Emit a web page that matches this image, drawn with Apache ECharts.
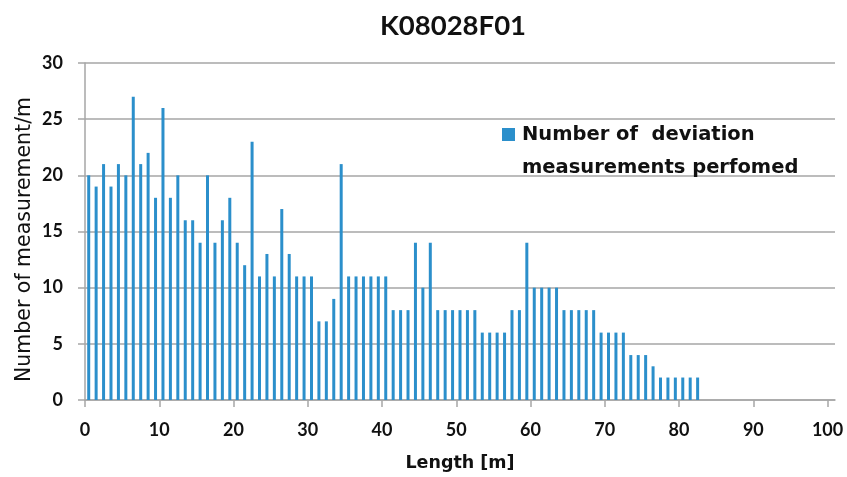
<!DOCTYPE html>
<html>
<head>
<meta charset="utf-8">
<script src="https://cdn.jsdelivr.net/npm/echarts@6/dist/echarts.min.js"></script>
<style>
  html, body { margin: 0; padding: 0; background: #fff; }
  #chart { width: 847px; height: 477px; }
</style>
</head>
<body>
<div id="chart"></div>
<script>
// Borehole K08028F01: number of deviation measurements per metre of length
const chartTitle = 'K08028F01';
const seriesName = 'Number of  deviation\nmeasurements perfomed';

// Bin centres along the hole [m]
const lengths = [
  0.5, 1.5, 2.5, 3.5, 4.5, 5.5, 6.5, 7.5, 8.5, 9.5,
  10.5, 11.5, 12.5, 13.5, 14.5, 15.5, 16.5, 17.5, 18.5, 19.5,
  20.5, 21.5, 22.5, 23.5, 24.5, 25.5, 26.5, 27.5, 28.5, 29.5,
  30.5, 31.5, 32.5, 33.5, 34.5, 35.5, 36.5, 37.5, 38.5, 39.5,
  40.5, 41.5, 42.5, 43.5, 44.5, 45.5, 46.5, 47.5, 48.5, 49.5,
  50.5, 51.5, 52.5, 53.5, 54.5, 55.5, 56.5, 57.5, 58.5, 59.5,
  60.5, 61.5, 62.5, 63.5, 64.5, 65.5, 66.5, 67.5, 68.5, 69.5,
  70.5, 71.5, 72.5, 73.5, 74.5, 75.5, 76.5, 77.5, 78.5, 79.5,
  80.5, 81.5, 82.5
];

// Measurements performed in each metre
const counts = [
  20, 19, 21, 19, 21, 20, 27, 21, 22, 18,
  26, 18, 20, 16, 16, 14, 20, 14, 16, 18,
  14, 12, 23, 11, 13, 11, 17, 13, 11, 11,
  11, 7, 7, 9, 21, 11, 11, 11, 11, 11,
  11, 8, 8, 8, 14, 10, 14, 8, 8, 8,
  8, 8, 8, 6, 6, 6, 6, 8, 8, 14,
  10, 10, 10, 10, 8, 8, 8, 8, 8, 6,
  6, 6, 6, 4, 4, 4, 3, 2, 2, 2,
  2, 2, 2
];

// Tick positions; the x axis runs a little past its last labelled tick
const xTickValues = [0, 10, 20, 30, 40, 50, 60, 70, 80, 90, 100];
const xRange = { min: 0, max: 101 };
const yTicks = { min: 0, max: 30, interval: 5 };

const NARROW = 'Lato, "Liberation Sans", sans-serif';
const WIDE = '"DejaVu Sans", Verdana, sans-serif';
const AXIS_GREY = '#a6a6a6';

const chart = echarts.init(document.getElementById('chart'), null, { renderer: 'canvas' });

chart.setOption({
  backgroundColor: '#ffffff',
  animation: false,
  title: {
    text: chartTitle,
    left: 448,
    textAlign: 'center',
    top: 7,
    textStyle: { fontFamily: NARROW, fontWeight: 'bold', fontSize: 27.5, color: '#111' }
  },
  legend: {
    left: 502,
    top: 85,
    padding: 0,
    itemWidth: 13,
    itemHeight: 13,
    icon: 'rect',
    data: [seriesName],
    // blank first line keeps the swatch level with the first text line
    formatter: name => ' \n' + name,
    textStyle: {
      fontFamily: WIDE,
      fontWeight: 'bold',
      fontSize: 19.5,
      color: '#111',
      lineHeight: 33,
      padding: [0, 0, 0, 2]
    }
  },
  grid: { left: 85, top: 63, width: 750, height: 339, containLabel: false },
  xAxis: {
    type: 'value',
    min: xRange.min,
    max: xRange.max,
    name: 'Length [m]',
    nameLocation: 'middle',
    nameGap: 54,
    nameTextStyle: { fontFamily: WIDE, fontWeight: 'bold', fontSize: 17.5, color: '#111' },
    axisLine: { show: true, lineStyle: { color: AXIS_GREY, width: 1.5 } },
    axisTick: {
      show: true, length: 7, customValues: xTickValues,
      lineStyle: { color: AXIS_GREY, width: 1.5 }
    },
    axisLabel: {
      margin: 21, customValues: xTickValues,
      fontFamily: NARROW, fontWeight: 'bold', fontSize: 18, color: '#111'
    },
    splitLine: { show: false }
  },
  yAxis: {
    type: 'value',
    min: yTicks.min,
    max: yTicks.max,
    interval: yTicks.interval,
    name: 'Number of measurement/m',
    nameLocation: 'middle',
    nameGap: 50,
    nameMoveOverlap: false,
    nameTextStyle: { fontFamily: WIDE, fontSize: 20.5, color: '#111', padding: [0, 16, 0, 0] },
    axisLine: { show: true, lineStyle: { color: AXIS_GREY, width: 1.5 } },
    axisTick: { show: true, length: 7, lineStyle: { color: AXIS_GREY, width: 1.5 } },
    axisLabel: { margin: 22, fontFamily: NARROW, fontWeight: 'bold', fontSize: 18, color: '#111' },
    splitLine: { show: true, lineStyle: { color: AXIS_GREY, width: 1.5 } }
  },
  series: [{
    name: seriesName,
    type: 'bar',
    barWidth: 3,
    itemStyle: { color: '#2b8fcb' },
    data: lengths.map((x, i) => [x, counts[i]])
  }]
});
</script>
</body>
</html>
